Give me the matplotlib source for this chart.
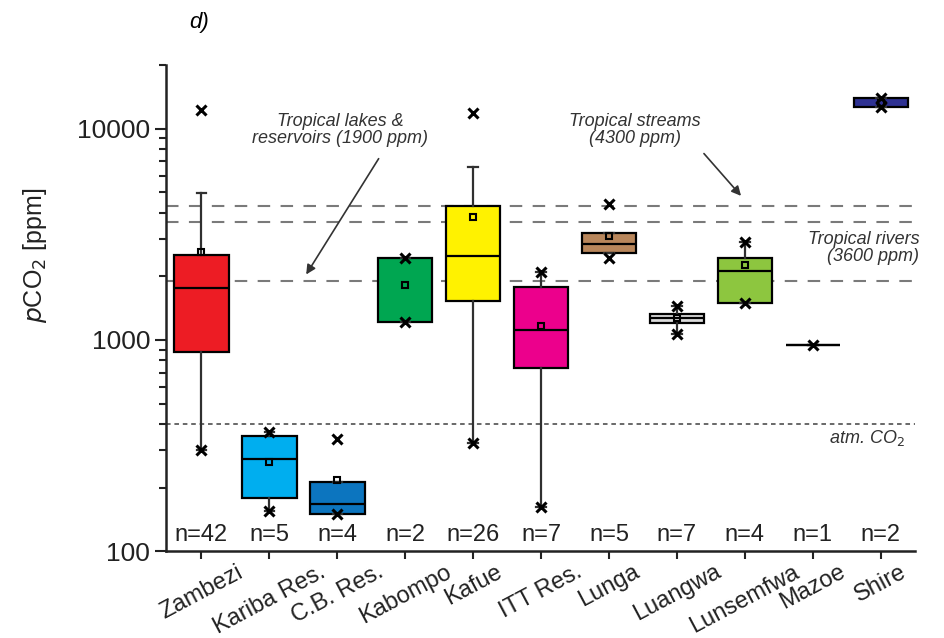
import matplotlib
matplotlib.use("Agg")
import matplotlib.pyplot as plt
from matplotlib.ticker import LogLocator, NullFormatter, FixedLocator

plt.rcParams['font.family'] = ['Liberation Sans', 'DejaVu Sans']

# data (ppm)
sites = ["Zambezi", "Kariba Res.", "C.B. Res.", "Kabompo", "Kafue", "ITT Res.",
         "Lunga", "Luangwa", "Lunsemfwa", "Mazoe", "Shire"]
n_obs = [42, 5, 4, 2, 26, 7, 5, 7, 4, 1, 2]
q1 = [877, 178, 150, 1220, 1530, 740, 2590, 1205, 1500, 950, 12700]
med = [1760, 273, 167, 1830, 2500, 1115, 2850, 1265, 2120, 950, 13300]
q3 = [2530, 350, 212, 2450, 4320, 1785, 3210, 1330, 2450, 950, 13900]
whis_lo = [300, 155, 150, 1220, 325, 162, 2590, 1070, 1500, 950, 12700]
whis_hi = [4950, 366, 212, 2450, 6600, 2100, 3210, 1450, 2900, 950, 13900]
means = [2620, 265, 218, 1830, 3830, 1165, 3100, 1265, 2265, None, 13300]
show_median = [True, True, True, False, True, True, True, True, True, True, False]
extremes = [[300, 12300], [155, 366], [150, 340], [1220, 2450], [325, 11800],
            [162, 2100], [2450, 4400], [1070, 1450], [1500, 2900], [950], [12700, 13900]]
colors = ["#ED1C24", "#00AEEF", "#0C75BF", "#00A651", "#FFF200", "#EC008C",
          "#B8865B", "#DCDCDC", "#8DC63F", "none", "#2E3192"]

ref_levels = [4300, 3600, 1900]
atm_co2 = 400

fig = plt.figure(figsize=(9.44, 6.38), dpi=100)
ax = fig.add_axes([0.176, 0.136, 0.793, 0.762])

positions = list(range(1, len(sites) + 1))
stats = []
for i in range(len(sites)):
    stats.append(dict(q1=q1[i], med=med[i], q3=q3[i], whislo=whis_lo[i],
                      whishi=whis_hi[i], fliers=[], label=sites[i]))

bp = ax.bxp(stats, positions=positions, widths=0.8, patch_artist=True,
            showfliers=False, showcaps=True,
            boxprops=dict(edgecolor="black", linewidth=1.6),
            medianprops=dict(color="black", linewidth=1.6),
            whiskerprops=dict(color="#303030", linewidth=1.6),
            capprops=dict(color="#303030", linewidth=1.6),
            capwidths=0.14, zorder=3)
for patch, c in zip(bp["boxes"], colors):
    patch.set_facecolor(c)
for line, show in zip(bp["medians"], show_median):
    line.set_visible(show)

# min / max markers
for p, vals in zip(positions, extremes):
    ax.plot([p] * len(vals), vals, linestyle="none", marker="x", color="black",
            markersize=7, markeredgewidth=2.2, zorder=5)

# means
mp = [p for p, m in zip(positions, means) if m is not None]
mv = [m for m in means if m is not None]
ax.plot(mp, mv, linestyle="none", marker="s", markersize=5, markerfacecolor="none",
        markeredgecolor="black", markeredgewidth=1.5, zorder=6)

# reference lines
for lvl in ref_levels:
    ax.axhline(lvl, color="#7a7a7a", linestyle=(0, (6, 5)), linewidth=1.5, zorder=1)
ax.axhline(atm_co2, color="#404040", linestyle=(0, (3, 2.5)), linewidth=1.1, zorder=1)

# n labels
for p, n in zip(positions, n_obs):
    ax.text(p, 106, "n=%d" % n, ha="center", va="bottom", fontsize=17, color="#222222")

ax.set_yscale("log")
ax.set_ylim(100, 20000)
ax.set_xlim(0.48, 11.5)
ax.yaxis.set_major_locator(FixedLocator([100, 1000, 10000]))
ax.set_yticklabels(["100", "1000", "10000"])
ax.yaxis.set_minor_locator(LogLocator(base=10, subs=range(2, 10)))
ax.yaxis.set_minor_formatter(NullFormatter())
ax.tick_params(axis="y", which="major", length=8, width=1.5, labelsize=19, colors="#222222")
ax.tick_params(axis="y", which="minor", length=5, width=1.5, colors="#222222")
ax.set_xticks(positions)
ax.set_xticklabels(sites, rotation=28, ha="center", fontsize=17)
ax.tick_params(axis="x", length=6, width=1.5, colors="#222222", pad=1)

for s in ["top", "right"]:
    ax.spines[s].set_visible(False)
for s in ["left", "bottom"]:
    ax.spines[s].set_linewidth(1.8)
    ax.spines[s].set_color("#222222")

fig.text(0.037, 0.60, r"$\mathit{p}$CO$_2$ [ppm]", rotation=90, ha="center", va="center",
         fontsize=18, color="#222222")
fig.text(0.20, 0.965, "d)", fontstyle="italic", fontsize=16, ha="left", va="center")

# annotations
ax.annotate("", xy=(2.52, 1990), xytext=(3.63, 7400),
            arrowprops=dict(arrowstyle="-|>", color="#333333", lw=1.2, mutation_scale=14))
ax.text(3.04, 9900, "Tropical lakes &\nreservoirs (1900 ppm)", ha="center", va="center",
        fontstyle="italic", fontsize=13, color="#333333", linespacing=1.0)
ax.annotate("", xy=(8.97, 4700), xytext=(8.37, 7800),
            arrowprops=dict(arrowstyle="-|>", color="#333333", lw=1.2, mutation_scale=14))
ax.text(7.38, 9900, "Tropical streams\n(4300 ppm)", ha="center", va="center",
        fontstyle="italic", fontsize=13, color="#333333", linespacing=1.0)
ax.text(11.57, 2730, "Tropical rivers\n(3600 ppm)", ha="right", va="center",
        fontstyle="italic", fontsize=13, color="#333333", linespacing=1.0)
ax.text(11.35, 345, r"atm. CO$_2$", ha="right", va="center",
        fontstyle="italic", fontsize=13, color="#333333")

fig.savefig("out.png", dpi=100)
